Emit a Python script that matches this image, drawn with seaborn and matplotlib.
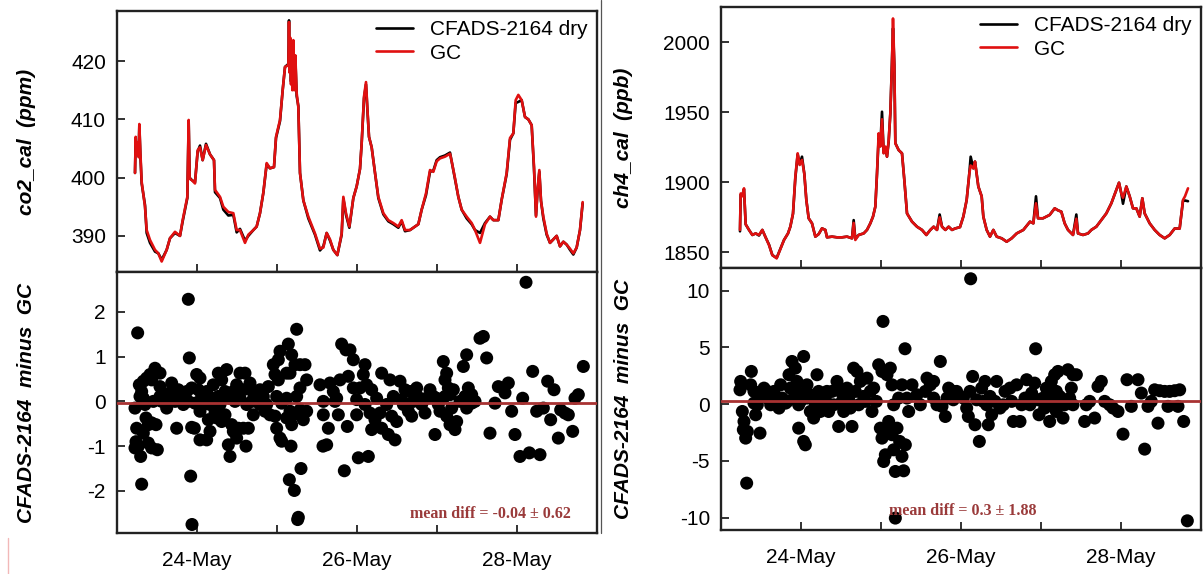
import pandas as pd
import matplotlib
matplotlib.use("Agg")
import matplotlib.pyplot as plt
from matplotlib.lines import Line2D
import seaborn as sns

sns.set_style("ticks")
plt.rcParams["font.family"] = ["Liberation Sans", "DejaVu Sans"]
plt.rcParams["axes.unicode_minus"] = False
plt.rcParams["text.color"] = "black"
plt.rcParams["axes.labelcolor"] = "black"
plt.rcParams["xtick.labelcolor"] = "black"
plt.rcParams["ytick.labelcolor"] = "black"

# ----------------------------------------------------------------
# data (hours since 23-May 00:00)
# ----------------------------------------------------------------
co2_hours = [5.4, 5.6, 5.9, 6.2, 6.5, 6.7, 7.0, 7.4, 8.4, 8.9,
             9.9, 11.4, 12.4, 13.4, 14.9, 15.9, 17.4, 18.9, 19.7, 21.1,
             21.5, 21.8, 22.4, 23.4, 24.2, 24.9, 25.7, 26.7, 27.9, 29.1,
             29.4, 30.9, 31.9, 33.4, 34.9, 35.9, 36.9, 38.4, 39.4, 40.9,
             41.9, 42.9, 43.9, 44.9, 45.9, 47.1, 47.7, 48.9, 49.7, 50.4,
             51.4, 51.6, 51.8, 52.0, 52.2, 52.4, 52.6, 52.9, 53.2, 53.5,
             53.9, 54.4, 54.9, 55.9, 57.4, 59.4, 60.9, 61.9, 62.9, 63.9,
             64.9, 66.1, 67.4, 67.9, 68.7, 69.7, 70.9, 71.9, 72.9, 73.4,
             74.1, 74.7, 75.1, 75.6, 76.4, 77.4, 78.4, 79.9, 81.4, 82.9,
             84.4, 85.4, 86.4, 87.9, 89.4, 90.4, 91.4, 92.7, 93.9, 94.9,
             95.9, 96.9, 98.4, 99.9, 100.4, 101.4, 102.4, 103.4, 104.9, 106.4,
             107.4, 108.9, 110.4, 111.9, 112.9, 114.4, 115.4, 116.9, 117.9, 118.9,
             119.6, 120.4, 121.4, 122.4, 123.4, 124.4, 125.1, 125.7, 126.2, 126.7,
             127.2, 127.9, 128.9, 129.9, 130.9, 131.9, 132.9, 133.9, 134.9, 135.9,
             136.9, 137.9, 138.9, 139.7]
co2_gc = [400.8, 407.0, 404.0, 406.0, 403.5, 409.2, 404.5, 399.3, 395.0, 391.0,
          389.3, 387.6, 387.0, 385.6, 387.6, 389.6, 390.7, 390.0, 392.7, 396.7,
          409.9, 399.8, 399.6, 399.0, 404.7, 405.2, 403.0, 405.6, 404.0, 403.0,
          397.9, 396.7, 395.0, 394.1, 393.9, 391.0, 391.0, 388.8, 390.2, 391.0,
          391.6, 393.9, 397.4, 402.5, 401.6, 401.8, 407.0, 409.9, 415.0, 419.0,
          419.3, 426.7, 418.0, 424.0, 416.0, 423.0, 415.0, 423.6, 415.0, 421.0,
          414.5, 412.1, 400.8, 396.1, 393.3, 390.4, 387.8, 388.0, 390.5, 389.4,
          387.6, 386.7, 390.4, 396.7, 393.9, 391.6, 396.5, 398.5, 401.5, 405.9,
          413.9, 416.4, 412.0, 407.0, 405.2, 400.8, 396.7, 393.9, 392.7, 392.2,
          391.6, 392.7, 391.0, 391.0, 391.6, 392.0, 394.5, 397.3, 401.3, 401.0,
          402.8, 403.3, 403.6, 404.1, 402.8, 399.9, 396.7, 394.5, 393.3, 392.2,
          391.0, 388.8, 392.0, 393.3, 392.7, 392.7, 396.2, 400.8, 406.8, 407.6,
          413.3, 414.2, 413.3, 410.4, 410.0, 409.0, 401.9, 393.3, 398.2, 401.3,
          396.0, 393.3, 390.4, 388.8, 389.4, 390.0, 388.2, 389.0, 388.5, 387.8,
          387.0, 388.0, 391.0, 395.8]
co2_cfads = [400.8, 406.5, 404.5, 405.5, 404.0, 409.0, 404.0, 399.0, 395.3, 390.5,
             388.8, 387.3, 387.0, 385.9, 387.6, 389.6, 390.5, 390.0, 392.5, 396.5,
             409.5, 400.0, 399.6, 399.2, 404.5, 405.5, 403.0, 405.8, 404.0, 403.0,
             397.5, 396.5, 394.5, 393.5, 393.6, 390.6, 391.2, 389.2, 390.0, 391.0,
             391.6, 393.9, 397.4, 402.3, 401.6, 401.8, 406.8, 409.7, 415.0, 419.0,
             419.5, 427.0, 418.5, 423.5, 416.5, 422.5, 415.5, 423.0, 415.5, 420.5,
             414.0, 412.3, 400.8, 396.1, 393.0, 390.2, 387.5, 388.2, 390.5, 389.2,
             387.6, 386.7, 390.2, 396.4, 393.6, 391.4, 396.5, 398.5, 401.5, 405.9,
             413.6, 416.0, 411.8, 407.0, 405.2, 400.8, 396.5, 393.7, 392.5, 392.0,
             391.4, 392.5, 390.8, 391.0, 391.6, 392.0, 394.5, 397.0, 401.0, 401.2,
             403.0, 403.5, 403.8, 404.3, 402.8, 399.9, 396.7, 394.5, 393.0, 392.0,
             391.0, 390.5, 392.2, 393.3, 392.7, 392.7, 396.2, 400.6, 406.5, 407.6,
             412.8, 413.0, 413.3, 410.4, 410.0, 409.0, 401.5, 393.5, 398.0, 401.0,
             396.0, 393.0, 390.2, 388.8, 389.4, 390.0, 388.2, 389.0, 388.5, 387.6,
             386.8, 388.0, 391.0, 395.6]

ch4_hours = [5.7, 5.9, 6.4, 6.9, 7.4, 8.4, 9.4, 10.4, 11.4, 12.4,
             13.4, 14.4, 15.4, 16.7, 17.9, 18.9, 20.1, 20.8, 21.6, 22.3,
             23.0, 23.6, 24.3, 25.0, 25.6, 26.3, 27.3, 28.3, 29.3, 30.3,
             31.3, 31.8, 33.3, 34.8, 36.3, 37.8, 39.3, 39.8, 40.3, 41.3,
             42.8, 43.8, 44.8, 45.6, 46.3, 46.8, 47.3, 47.8, 48.3, 48.8,
             49.3, 49.8, 50.3, 50.8, 51.3, 51.6, 52.0, 52.3, 53.3, 54.3,
             55.0, 55.8, 57.3, 58.8, 60.3, 61.6, 62.8, 63.8, 64.8, 65.6,
             66.3, 67.3, 68.3, 69.3, 70.2, 71.7, 72.7, 73.7, 74.5, 74.9,
             75.7, 76.2, 77.2, 78.2, 78.7, 79.7, 80.7, 81.7, 82.7, 84.2,
             85.7, 87.2, 88.7, 90.7, 92.7, 93.7, 94.5, 95.1, 96.6, 98.6,
             100.1, 101.1, 102.1, 103.1, 104.1, 105.6, 106.6, 107.1, 108.6, 110.1,
             111.1, 112.6, 114.1, 115.6, 117.1, 118.6, 119.4, 120.1, 120.6, 121.6,
             122.6, 123.6, 124.6, 125.6, 126.4, 127.1, 128.6, 130.1, 131.6, 133.1,
             134.6, 136.1, 137.6, 138.6, 139.2, 140.1]
ch4_gc = [1866, 1892, 1890, 1895.7, 1870, 1866, 1862.4, 1863.5, 1862.4, 1866,
          1860.6, 1855.2, 1848, 1845.7, 1852.9, 1858.8, 1863.5, 1868.3, 1877.8, 1904,
          1920.7, 1912.4, 1916, 1906, 1887.4, 1874.3, 1870.7, 1861.2, 1863, 1867.1,
          1866, 1860.7, 1861.2, 1860.7, 1860.7, 1861.2, 1860, 1871, 1858.8, 1862.4,
          1863.5, 1866, 1870.7, 1875.5, 1882.6, 1906.4, 1935, 1925.5, 1945, 1920.7,
          1925.5, 1918.3, 1930, 1949.2, 1985, 2017, 1983.8, 1927.8, 1923, 1920.7,
          1901.6, 1877.8, 1871.9, 1868.3, 1866, 1862.4, 1866, 1868.3, 1866, 1875,
          1868.3, 1866, 1868.3, 1866, 1867, 1868, 1875.5, 1887.4, 1906.4, 1912,
          1910, 1914.8, 1897, 1890, 1875.5, 1866, 1861.2, 1866, 1861.2, 1860,
          1857.6, 1860, 1863.5, 1866, 1871.9, 1870.7, 1885, 1874.3, 1874.3, 1876.7,
          1881.4, 1880, 1879, 1870.7, 1866, 1862.4, 1874, 1863.5, 1862.4, 1863.5,
          1866, 1868.3, 1873, 1877.8, 1885, 1894.5, 1899.7, 1892, 1889, 1897,
          1890, 1881.4, 1881.4, 1875.5, 1888.6, 1877.8, 1870.7, 1866, 1862.4, 1860,
          1862.4, 1867, 1867, 1887.4, 1890, 1895.7]
ch4_cfads = [1865, 1891, 1891, 1895, 1870, 1866, 1862.4, 1863.5, 1862, 1866,
             1860.6, 1855.5, 1848, 1846, 1852.9, 1858.8, 1863.5, 1868.3, 1877.5, 1903,
             1920, 1913, 1918.3, 1906, 1887.4, 1874.3, 1870.7, 1861.2, 1863, 1867.1,
             1866, 1860.7, 1861.2, 1860.7, 1860.7, 1861.2, 1860, 1873, 1859.5, 1862.4,
             1863.5, 1866, 1870.7, 1875.5, 1882.6, 1906, 1932, 1926, 1950.4, 1921,
             1925, 1918.3, 1929, 1949, 1987.4, 2010, 1984, 1928, 1923, 1920.7,
             1901.6, 1877.8, 1871.9, 1868.3, 1866, 1862.4, 1866, 1868.3, 1866, 1877,
             1868.3, 1866, 1868.3, 1866, 1867, 1868, 1875.5, 1887.4, 1906.4, 1918.3,
             1910, 1914.8, 1897, 1890, 1875.5, 1866, 1861.2, 1866, 1861.2, 1860,
             1857.6, 1860, 1863.5, 1866, 1871.9, 1870.7, 1890, 1874.3, 1874.3, 1876.7,
             1881.4, 1880, 1879, 1870.7, 1866, 1862.4, 1877, 1863.5, 1862.4, 1863.5,
             1866, 1868.3, 1873, 1877.8, 1885, 1894.5, 1899.7, 1892, 1884.7, 1897,
             1890, 1881.4, 1881.4, 1875.5, 1888.6, 1877.8, 1870.7, 1866, 1862.4, 1860,
             1862.4, 1867, 1867, 1886.7, 1887, 1886.5]

# CFADS minus GC differences
co2_diff_hours = [6.2, 5.4, 5.9, 5.7, 5.4, 6.4, 7.1, 7.4, 6.7, 6.9,
                  7.4, 7.9, 8.9, 9.9, 10.4, 11.4, 12.9, 7.9, 8.4, 8.7,
                  9.4, 7.9, 10.4, 11.7, 9.4, 10.4, 12.1, 10.9, 12.9, 13.4,
                  14.4, 14.9, 16.4, 16.9, 17.9, 18.4, 19.4, 19.9, 21.4, 21.7,
                  22.1, 22.5, 22.4, 23.2, 20.9, 21.4, 22.4, 23.9, 24.9, 24.4,
                  25.4, 24.9, 25.9, 24.9, 26.9, 27.9, 27.4, 26.9, 28.4, 28.9,
                  30.4, 31.4, 32.9, 30.9, 29.4, 29.9, 31.4, 32.4, 33.4, 33.9,
                  34.4, 34.9, 35.9, 36.4, 33.9, 35.4, 35.9, 36.9, 38.4, 37.9,
                  38.9, 37.9, 39.4, 38.7, 39.9, 40.9, 40.9, 41.9, 42.9, 43.9,
                  45.4, 44.9, 45.9, 46.9, 48.4, 48.9, 47.4, 48.4, 47.9, 49.4,
                  47.4, 47.9, 48.9, 49.4, 51.4, 50.9, 51.9, 52.4, 53.9, 53.4,
                  54.9, 56.4, 56.9, 54.9, 53.9, 50.9, 51.9, 52.9, 52.4, 50.9,
                  52.2, 54.9, 55.9, 56.9, 51.7, 53.2, 55.2, 54.4, 54.2, 60.9,
                  61.9, 61.9, 63.4, 61.8, 62.9, 63.9, 64.9, 65.9, 66.9, 67.4,
                  68.7, 69.9, 70.9, 69.4, 70.9, 66.4, 69.1, 71.9, 68.2, 72.4,
                  65.4, 12.9, 15.9, 17.4, 18.9, 23.4, 26.4, 27.9, 30.4, 32.4,
                  34.9, 36.9, 40.4, 42.9, 44.4, 75.4, 74.4, 73.9, 74.9, 76.4,
                  72.9, 71.9, 74.4, 75.9, 77.4, 78.9, 79.4, 81.9, 76.4, 79.4,
                  81.4, 83.4, 80.9, 82.4, 83.9, 84.9, 86.4, 85.4, 87.9, 88.9,
                  89.9, 88.4, 90.9, 92.4, 93.9, 95.4, 95.9, 96.9, 97.9, 98.9,
                  99.4, 98.4, 99.9, 100.9, 98.9, 99.9, 101.9, 101.4, 100.4, 103.9,
                  104.9, 105.4, 106.4, 104.9, 107.4, 108.9, 109.9, 110.9, 111.9, 113.4,
                  114.4, 116.4, 117.4, 118.4, 119.4, 120.9, 121.7, 122.7, 123.7, 124.7,
                  125.9, 126.9, 127.9, 129.2, 130.1, 131.1, 132.4, 133.1, 134.4, 135.4,
                  136.7, 137.4, 138.4, 139.9, 85.9, 87.4, 91.4, 92.9, 94.9, 96.4,
                  98.4, 102.9, 104.4, 106.4, 82.9, 77.9]
co2_diff_values = [1.53, -0.15, -0.6, -0.9, -1.04, -1.0, -1.23, -1.85, 0.37, 0.11,
                   0.22, 0.45, 0.52, 0.6, 0.48, 0.74, 0.63, 0.07, -0.07, -0.37,
                   -0.52, -0.71, -0.48, -0.52, -0.93, -1.04, -1.08, 0.0, 0.11, 0.0,
                   0.11, -0.15, 0.41, 0.07, -0.6, 0.26, 0.19, -0.07, 2.28, 0.97,
                   -1.67, -2.75, -0.58, -0.6, 0.22, 0.0, 0.3, 0.6, 0.52, 0.26,
                   0.11, -0.22, -0.07, -0.86, -0.86, -0.67, -0.41, 0.22, 0.07, 0.37,
                   0.63, 0.48, 0.71, -0.07, -0.26, -0.37, -0.45, -0.3, -0.97, -1.23,
                   -0.52, -0.67, -0.82, -0.6, 0.07, 0.0, 0.37, 0.63, 0.63, 0.26,
                   -0.07, -0.6, -0.6, -1.0, 0.41, 0.19, -0.3, 0.0, 0.26, 0.11,
                   0.33, -0.07, -0.3, 0.82, 0.93, 1.12, 0.6, 0.48, 0.11, -0.04,
                   -0.33, -0.6, -0.82, -0.89, 1.28, 0.63, 0.63, 1.04, 1.61, 0.82,
                   0.82, 0.82, 0.48, 0.3, 0.11, 0.07, -0.22, -0.3, -0.52, -0.37,
                   -1.0, -0.19, -0.41, -0.22, -1.75, -1.99, -1.5, -2.59, -2.64, 0.37,
                   0.0, -0.3, -0.6, -1.0, -0.97, 0.41, 0.22, 0.07, 0.48, 1.28,
                   1.15, 1.15, 0.93, 0.56, 0.3, -0.3, -0.56, -0.3, -1.55, -1.26,
                   0.0, 0.33, 0.19, 0.0, 0.07, -0.04, 0.07, -0.07, 0.11, 0.22,
                   0.22, 0.07, 0.0, -0.07, -0.22, -1.23, 0.82, 0.6, 0.37, 0.26,
                   0.3, 0.04, -0.07, -0.26, -0.41, -0.26, 0.63, 0.48, -0.63, -0.6,
                   -0.74, -0.86, -0.07, -0.33, -0.45, 0.45, 0.26, 0.04, 0.22, 0.0,
                   0.3, -0.33, 0.07, -0.26, 0.26, -0.74, 0.07, -0.22, 0.89, 0.63,
                   0.3, 0.48, 0.15, 0.26, -0.33, -0.52, -0.45, -0.63, -0.15, 0.78,
                   1.04, 0.3, 0.15, -0.15, 0.0, 1.41, 1.45, 0.97, -0.71, -0.04,
                   0.33, 0.19, 0.41, -0.22, -0.74, -1.23, 0.07, 2.66, -1.15, 0.67,
                   -0.22, -1.19, -0.15, 0.45, -0.41, 0.26, -0.82, -0.19, -0.26, -0.3,
                   -0.67, 0.07, 0.15, 0.78, -0.07, -0.22, -0.07, 0.07, 0.11, -0.07,
                   0.11, 0.0, 0.11, -0.04, 0.11, 0.07]

ch4_diff_hours = [5.9, 5.7, 6.4, 6.9, 6.7, 7.4, 7.9, 7.7, 9.1, 8.9,
                  9.9, 10.9, 10.4, 11.7, 11.9, 12.9, 13.9, 14.9, 15.9, 17.9,
                  18.4, 19.4, 20.4, 20.8, 21.3, 22.3, 22.8, 23.3, 23.3, 24.8,
                  25.3, 24.8, 24.3, 25.8, 26.8, 27.8, 28.8, 29.3, 30.3, 31.3,
                  32.3, 33.3, 34.8, 35.3, 36.3, 37.8, 38.8, 39.3, 39.8, 40.8,
                  41.8, 42.8, 43.8, 45.3, 45.8, 47.3, 48.3, 48.6, 47.8, 48.3,
                  48.8, 49.3, 50.3, 50.8, 51.3, 51.8, 52.3, 52.8, 53.6, 54.3,
                  54.8, 55.3, 55.2, 49.8, 50.8, 51.3, 51.8, 53.3, 54.3, 55.8,
                  56.3, 57.3, 61.3, 61.8, 62.8, 63.8, 64.8, 65.8, 66.3, 67.3,
                  68.3, 69.7, 52.3, 13.9, 19.9, 22.8, 26.8, 28.3, 29.8, 31.8,
                  33.8, 35.8, 36.8, 38.3, 40.3, 41.3, 43.3, 44.8, 46.6, 58.8,
                  59.8, 63.8, 67.8, 9.9, 11.4, 16.9, 17.4, 25.8, 27.8, 21.8,
                  23.8, 74.9, 75.5, 70.7, 72.7, 73.7, 74.2, 76.2, 77.5, 78.2,
                  79.2, 80.2, 79.7, 81.2, 82.7, 82.2, 83.7, 85.2, 86.7, 87.7,
                  88.7, 89.7, 90.2, 91.7, 93.2, 94.1, 94.4, 95.4, 96.6, 97.6,
                  98.6, 99.1, 100.1, 101.1, 100.6, 99.6, 100.6, 102.6, 104.1, 105.6,
                  106.6, 105.1, 105.6, 109.1, 109.6, 110.6, 112.1, 113.1, 114.1, 115.1,
                  116.6, 117.6, 119.1, 120.6, 121.8, 123.1, 125.1, 126.1, 127.1, 128.1,
                  129.1, 130.1, 131.1, 131.6, 133.1, 134.1, 134.6, 136.1, 137.1, 137.6,
                  138.8, 139.9, 69.7, 71.7, 74.7, 76.7, 78.7, 80.7, 84.7, 87.2,
                  91.2, 92.7, 95.2, 97.1, 98.1, 101.6, 103.1, 104.6]
ch4_diff_values = [2.0, 1.26, -0.65, -1.53, -2.26, -3.0, -2.41, -6.97, 2.88, 1.7,
                   1.12, -0.06, -0.94, -2.56, 0.68, 1.41, 0.53, -0.06, 1.12, 1.7,
                   0.53, 0.09, 2.59, 1.41, 3.76, 3.17, 2.0, -0.06, -2.12, 4.2,
                   -3.59, -3.29, 0.82, 1.7, -0.65, 0.53, 2.59, 1.12, -0.06, 0.53,
                   -0.65, 1.12, 2.0, -1.97, 0.24, 1.41, -0.35, -1.97, 3.17, 2.88,
                   2.0, 0.68, 2.29, -0.65, 1.41, 3.47, 2.88, 7.29, -2.12, -3.0,
                   -5.06, -4.47, -1.53, -2.41, -2.7, -4.03, -5.94, -2.12, -3.29, -4.61,
                   -5.88, -3.59, 4.88, 2.59, 3.17, 1.7, -0.06, 0.53, 1.7, 0.53,
                   -0.65, 1.7, 1.12, 2.29, 1.7, 0.53, -0.06, 3.76, -0.2, -1.09,
                   1.41, 1.12, -10.05, 1.12, 0.24, 1.12, 0.82, -0.06, -0.65, 1.12,
                   -0.06, 1.12, -0.65, 0.53, 1.12, -0.06, 0.24, 1.12, 0.24, 0.82,
                   -0.06, 2.0, 0.53, 0.09, 0.97, 0.24, -0.35, 0.53, -1.23, 0.53,
                   0.24, 11.05, 2.44, 1.12, 0.53, -0.35, -1.09, -1.82, -3.29, 1.41,
                   2.0, -1.82, -0.06, -0.94, 2.0, 0.24, -0.35, 1.12, 1.41, -1.53,
                   1.7, -1.53, -0.06, 2.15, 0.97, 1.85, 4.88, -0.94, 0.53, 1.41,
                   -1.53, 2.0, 2.59, 2.88, 1.12, -0.06, -0.65, -1.23, 3.03, 2.59,
                   2.59, 1.41, -0.06, -1.53, -0.06, 0.24, -1.23, 1.56, 2.0, 0.24,
                   -0.06, -0.35, -0.65, -2.65, 2.15, -0.2, 2.15, 0.97, -3.97, -0.2,
                   0.24, 1.26, -1.68, 1.18, 1.12, -0.2, 1.12, 1.18, -0.2, 1.26,
                   -1.53, -10.29, 0.38, 0.68, 1.12, 0.38, 0.24, 0.68, -0.06, 0.24,
                   0.53, -0.06, 0.38, -0.35, 0.68, 0.68, -0.06, 0.53]

co2_mean, co2_sd = -0.04, 0.62
ch4_mean, ch4_sd = 0.3, 1.88

START = pd.Timestamp("2012-05-23")
day_ticks = [START + pd.Timedelta(days=d) for d in range(7)]
day_labels = ["", "24-May", "", "26-May", "", "28-May", ""]

RED = "#e01010"
MEAN_RED = "#a83232"
W, H = 1204, 574


def to_time(hours):
    return START + pd.to_timedelta(hours, unit="h")


def style_axis(ax, show_labels):
    ax.set_xlim(day_ticks[0], day_ticks[-1])
    ax.set_xticks(day_ticks)
    ax.set_xticklabels(day_labels if show_labels else [""] * 7)
    ax.tick_params(direction="in", length=6, width=1.3, labelsize=15,
                   top=False, right=False, color="#222222", labelcolor="black")
    ax.tick_params(axis="x", pad=13)
    ax.tick_params(axis="y", pad=8)
    for sp in ax.spines.values():
        sp.set_linewidth(1.7)
        sp.set_color("#222222")
    ax.set_xlabel("")


def draw_top(ax, hours, cfads, gc, ylim, yticks, ylabel):
    t = to_time(hours)
    sns.lineplot(x=t, y=cfads, ax=ax, color="black", lw=1.9,
                 estimator=None, sort=False, label="CFADS-2164 dry")
    sns.lineplot(x=t, y=gc, ax=ax, color=RED, lw=1.9,
                 estimator=None, sort=False, label="GC")
    ax.set_ylim(*ylim)
    ax.set_yticks(yticks)
    style_axis(ax, False)
    ax.set_ylabel(ylabel, fontsize=15, fontweight="bold", style="italic",
                  color="black")
    ax.legend(loc="upper right", frameon=False, fontsize=15,
              handlelength=1.8, handletextpad=0.8, labelspacing=0.2,
              borderaxespad=0.15, borderpad=0.3, labelcolor="black")


def draw_diff(ax, hours, vals, mean, sd, ylim, yticks, text_x):
    sns.scatterplot(x=to_time(hours), y=vals, ax=ax, color="black", s=88,
                    edgecolor="none", clip_on=False, zorder=3)
    ax.axhline(mean, color=MEAN_RED, lw=2.0, zorder=4)
    ax.set_ylim(*ylim)
    ax.set_yticks(yticks)
    style_axis(ax, True)
    ax.set_ylabel("CFADS-2164  minus  GC", fontsize=15, fontweight="bold",
                  style="italic", color="black")
    ax.text(text_x, 0.072, f"mean diff = {mean} \u00b1 {sd}", transform=ax.transAxes,
            ha="center", va="center", color="#9a3a3a", fontsize=11.5,
            fontweight="bold", family=["Liberation Serif", "DejaVu Serif"])


fig = plt.figure(figsize=(W / 100, H / 100), dpi=100)

ax_co2 = fig.add_axes([117 / W, 1 - 272 / H, 480 / W, 261 / H])
ax_co2d = fig.add_axes([117 / W, 1 - 533 / H, 480 / W, 261 / H])
ax_ch4 = fig.add_axes([721 / W, 1 - 268 / H, 480 / W, 261 / H])
ax_ch4d = fig.add_axes([721 / W, 1 - 530 / H, 480 / W, 262 / H])

draw_top(ax_co2, co2_hours, co2_cfads, co2_gc, (383.8, 428.6),
         [390, 400, 410, 420], "co2_cal  (ppm)")
draw_top(ax_ch4, ch4_hours, ch4_cfads, ch4_gc, (1838.8, 2025.2),
         [1850, 1900, 1950, 2000], "ch4_cal  (ppb)")
draw_diff(ax_co2d, co2_diff_hours, co2_diff_values, co2_mean, co2_sd,
          (-2.94, 2.89), [-2, -1, 0, 1, 2], 0.777)
draw_diff(ax_ch4d, ch4_diff_hours, ch4_diff_values, ch4_mean, ch4_sd,
          (-11.1, 12.0), [-10, -5, 0, 5, 10], 0.504)
for ax in (ax_co2, ax_co2d):
    ax.yaxis.set_label_coords(-0.168, 0.5)
for ax in (ax_ch4, ax_ch4d):
    ax.yaxis.set_label_coords(-0.183, 0.5)

# scan edges visible in the source image
fig.add_artist(Line2D([601 / W, 601 / W], [1, 1 - 533 / H], color="#555555", lw=0.9))
fig.add_artist(Line2D([8 / W, 8 / W], [0, 36 / H], color="#f2b8b8", lw=1.0))

fig.savefig("out.png", dpi=100)
